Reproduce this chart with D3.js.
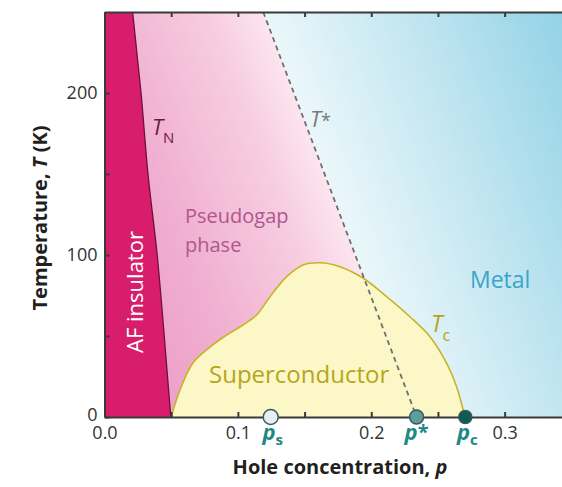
<!DOCTYPE html>
<html>
<head>
<meta charset="utf-8">
<script src="https://cdn.jsdelivr.net/npm/d3@7"></script>
<style>
  html, body { margin: 0; padding: 0; background: #fff; }
  svg { display: block; font-family: "Open Sans", "Noto Sans", sans-serif; }
</style>
</head>
<body>
<svg id="chart" width="562" height="487"></svg>
<script>
// ---- data ----
const pMajorTicks = [0, 0.1, 0.2, 0.3];
const pAllTicks = [0, 0.05, 0.1, 0.15, 0.2, 0.25, 0.3];
const tMajorTicks = [0, 100, 200];
const tAllTicks = [0, 50, 100, 150, 200];

// Néel temperature T_N boundary (AF insulator)
const tnP = [0.0211, 0.0274, 0.0326, 0.0395, 0.0448, 0.0497];
const tnT = [250, 200, 150, 100, 50, 0];

// Superconducting dome T_c
const tcP = [0.0500, 0.0566, 0.0663, 0.0791, 0.0916, 0.1038, 0.1141, 0.1241, 0.1366, 0.1488, 0.1616, 0.1765, 0.1938, 0.2115, 0.2290, 0.2440, 0.2565, 0.2640, 0.2702];
const tcT = [0, 16.7, 33.3, 43.2, 50.6, 56.8, 63.0, 74.3, 86.6, 93.8, 95.2, 92.8, 85.8, 74.3, 61.9, 49.6, 33.3, 18.7, 0];

// Pseudogap line T*
const tStarP = [0.119, 0.234];
const tStarT = [250, 0];

// Special dopings on the axis
const pointNames = ["s", "*", "c"];
const pointP = [0.1246, 0.234, 0.2705];

// ---- scales ----
const svg = d3.select("#chart");
const x = d3.scaleLinear().domain([0, 0.343]).range([104.5, 562]);
const y = d3.scaleLinear().domain([0, 250]).range([417, 12]);

const defs = svg.append("defs");
defs.append("clipPath").attr("id", "plotClip")
  .append("rect").attr("x", x(0)).attr("y", y(250)).attr("width", x(0.343) - x(0)).attr("height", y(0) - y(250));

// gradient perpendicular to the T* line
const A = [x(tStarP[0]), y(tStarT[0])], B = [x(tStarP[1]), y(tStarT[1])];
const ux = B[0] - A[0], uy = B[1] - A[1], ul = Math.hypot(ux, uy);
const nx = uy / ul, ny = -ux / ul;
const M = [(A[0] + B[0]) / 2, (A[1] + B[1]) / 2];
const R = 320;
const grad = defs.append("linearGradient").attr("id", "bgGrad")
  .attr("gradientUnits", "userSpaceOnUse")
  .attr("x1", M[0] - R * nx).attr("y1", M[1] - R * ny)
  .attr("x2", M[0] + R * nx).attr("y2", M[1] + R * ny);
[["0", "#e890bd"], ["0.25", "#f0aed0"], ["0.42", "#f7cde1"], ["0.5", "#fce5ef"], ["0.5", "#ebf7fa"], ["0.72", "#c0e5f0"], ["1", "#86cde3"]]
  .forEach(([o, c]) => grad.append("stop").attr("offset", o).attr("stop-color", c));

const plot = svg.append("g").attr("clip-path", "url(#plotClip)");

// background (pseudogap + metal)
plot.append("rect").attr("x", x(0)).attr("y", y(250)).attr("width", x(0.343) - x(0)).attr("height", y(0) - y(250))
  .attr("fill", "url(#bgGrad)");

// AF insulator region
const tnData = tnP.map((p, i) => ({p, t: tnT[i]}));
plot.append("path").datum(tnData)
  .attr("d", d3.area().y(d => y(d.t)).x0(x(0)).x1(d => x(d.p)).curve(d3.curveMonotoneY))
  .attr("fill", "#d81d6c");
plot.append("path").datum(tnData)
  .attr("d", d3.line().x(d => x(d.p)).y(d => y(d.t)).curve(d3.curveMonotoneY))
  .attr("fill", "none").attr("stroke", "#6e0f3c").attr("stroke-width", 1.3);

// superconducting dome
const tcData = tcP.map((p, i) => ({p, t: tcT[i]}));
const domeCurve = d3.curveCatmullRom.alpha(0.5);
plot.append("path").datum(tcData)
  .attr("d", d3.area().x(d => x(d.p)).y0(y(0)).y1(d => y(d.t)).curve(domeCurve))
  .attr("fill", "#fcf7c6");
plot.append("path").datum(tcData)
  .attr("d", d3.line().x(d => x(d.p)).y(d => y(d.t)).curve(domeCurve))
  .attr("fill", "none").attr("stroke", "#c6b42a").attr("stroke-width", 1.6);

// T* dashed line
const tsData = tStarP.map((p, i) => ({p, t: tStarT[i]}));
plot.append("path").datum(tsData)
  .attr("d", d3.line().x(d => x(d.p)).y(d => y(d.t)))
  .attr("fill", "none").attr("stroke", "#6f6f6f").attr("stroke-width", 1.8).attr("stroke-dasharray", "5,4");

// ---- axes ----
const axisColor = "#3a3a3a";
const fmt = d3.format(".1f");
function styleAxis(g) {
  g.selectAll("path.domain").attr("stroke", axisColor).attr("stroke-width", 2);
  g.selectAll(".tick line").attr("stroke", axisColor).attr("stroke-width", 2);
  g.selectAll(".tick text").attr("fill", "#333").attr("font-size", 18).attr("font-family", "Open Sans, sans-serif");
}
const xAxisB = svg.append("g").attr("transform", `translate(0,${y(0)})`)
  .call(d3.axisBottom(x).tickValues(pAllTicks).tickSize(-5).tickSizeOuter(0).tickPadding(9)
    .tickFormat(d => pMajorTicks.some(v => Math.abs(v - d) < 1e-9) ? fmt(d) : ""));
styleAxis(xAxisB);
const xAxisT = svg.append("g").attr("transform", `translate(0,${y(250)})`)
  .call(d3.axisTop(x).tickValues(pAllTicks).tickSize(-5).tickSizeOuter(0).tickFormat(""));
styleAxis(xAxisT);
const yAxisL = svg.append("g").attr("transform", `translate(${x(0)},0)`)
  .call(d3.axisLeft(y).tickValues(tAllTicks).tickSize(-5).tickSizeOuter(0).tickPadding(7)
    .tickFormat(d => tMajorTicks.includes(d) ? String(d) : ""));
styleAxis(yAxisL);
yAxisL.selectAll(".tick text").filter(d => d === 0).attr("dy", "0.22em");

// special points on axis
const circFill = ["#e6eff1", "#5e9c9e", "#0f5b52"];
const circR = [7.5, 7, 6.5];
pointP.forEach((p, i) => {
  svg.append("circle").attr("cx", x(p)).attr("cy", y(0)).attr("r", circR[i])
    .attr("fill", circFill[i]).attr("stroke", "#355a5c").attr("stroke-width", 1.5);
  const t = svg.append("text").attr("x", x(p) + (i === 1 ? 0 : 2)).attr("y", 440).attr("text-anchor", "middle")
    .attr("fill", "#1c8a84").attr("font-weight", "bold").attr("font-size", 22);
  t.append("tspan").attr("font-style", "italic").text("p");
  if (i === 1) t.append("tspan").attr("font-size", 20).attr("dy", -1).text("*");
  else t.append("tspan").attr("font-size", 15).attr("dy", 5).text(pointNames[i]);
});

// axis titles
const xt = svg.append("text").attr("x", 340).attr("y", 474).attr("text-anchor", "middle")
  .attr("font-weight", "bold").attr("font-size", 20).attr("fill", "#231f20");
xt.append("tspan").text("Hole concentration, ");
xt.append("tspan").attr("font-style", "italic").text("p");

const yt = svg.append("text").attr("transform", "translate(47,218) rotate(-90)").attr("text-anchor", "middle")
  .attr("font-weight", "bold").attr("font-size", 20).attr("fill", "#231f20");
yt.append("tspan").text("Temperature, ");
yt.append("tspan").attr("font-style", "italic").text("T");
yt.append("tspan").text(" (K)");

// region labels
svg.append("text").attr("transform", "translate(143,292) rotate(-90)").attr("text-anchor", "middle")
  .attr("fill", "#ffffff").attr("font-size", 22).text("AF insulator");

const tn = svg.append("text").attr("x", 152).attr("y", 135).attr("fill", "#6e1843").attr("font-size", 22);
tn.append("tspan").attr("font-style", "italic").text("T");
tn.append("tspan").attr("font-size", 15).attr("dy", 8).text("N");

svg.append("text").attr("x", 185).attr("y", 223).attr("fill", "#b0578b").attr("font-size", 20).text("Pseudogap");
svg.append("text").attr("x", 185).attr("y", 252).attr("fill", "#b0578b").attr("font-size", 20).text("phase");

const ts = svg.append("text").attr("x", 310).attr("y", 127).attr("fill", "#7a7a7a").attr("font-size", 22);
ts.append("tspan").attr("font-style", "italic").text("T");
ts.append("tspan").attr("font-size", 18).text("*");

svg.append("text").attr("x", 470).attr("y", 288).attr("fill", "#3aa4c9").attr("font-size", 23).text("Metal");

const tc = svg.append("text").attr("x", 431).attr("y", 332).attr("fill", "#b4a41e").attr("font-size", 23);
tc.append("tspan").attr("font-style", "italic").text("T");
tc.append("tspan").attr("font-size", 16).attr("dy", 9).text("c");

svg.append("text").attr("x", 209).attr("y", 383).attr("fill", "#b6a61c").attr("font-size", 24).text("Superconductor");
</script>
</body>
</html>
